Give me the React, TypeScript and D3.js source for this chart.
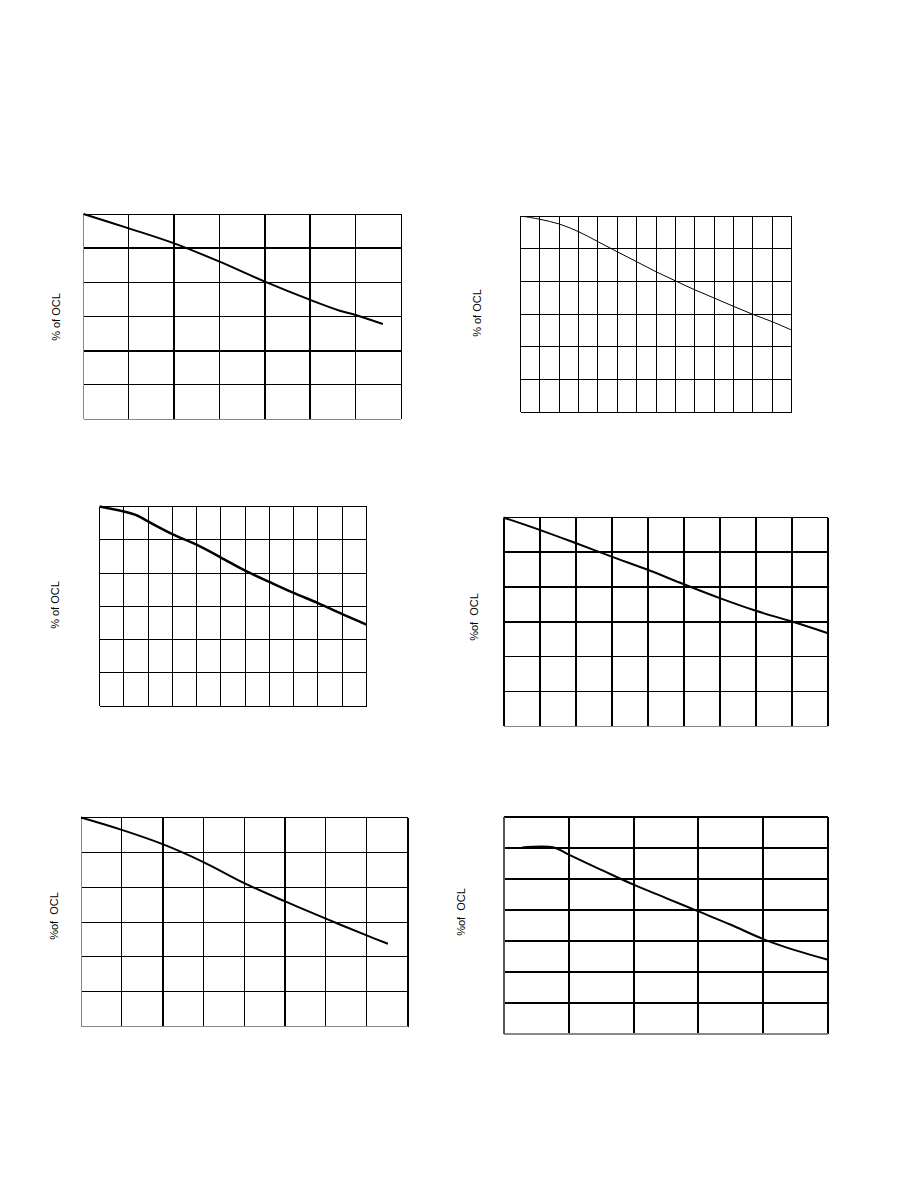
import * as d3 from 'd3';

// Curve values: x in grid columns, y in % of OCL
const p1X = [0, 1, 2, 3, 4, 5, 5.65, 6, 6.6];
const p1Y = [120, 111.6, 102.8, 92.1, 80.4, 69.7, 63.4, 60.9, 55.6];

const p2X = [0.24, 1, 2, 3, 4, 5, 6, 7, 8, 9, 10, 11, 12, 13, 14];
const p2Y = [119.6, 118, 115.1, 110.4, 104.3, 98.1, 92, 85.9, 80.3, 74.8, 69.8, 64.7, 59.8, 55.3, 50.2];

const p3X = [0, 1, 1.55, 2, 3, 4, 5, 6, 7, 8, 9, 10, 11];
const p3Y = [120, 117, 114.6, 111, 103.4, 97, 89.3, 81.4, 74.6, 68, 61.9, 55.3, 48.9];

const p4X = [0, 1, 2, 3, 4, 5, 6, 7, 8, 9];
const p4Y = [120, 112.9, 105.3, 97.5, 89.9, 81.6, 73.6, 66.3, 60.1, 53.4];

const p5X = [0, 1, 2, 3, 4, 5, 6, 7, 7.52];
const p5Y = [120, 112.9, 104.7, 94.4, 82.3, 71.8, 61.9, 52.3, 47.5];

const p6X = [0.28, 0.77, 1, 1.5, 2, 2.5, 3, 3.5, 4, 4.5, 5];
const p6Y = [120, 120, 115.4, 105.7, 96.1, 87.5, 78.9, 70.3, 61.1, 53.8, 47.8];

const labelA = '% of OCL';
const labelB = '%of  OCL';

interface PanelProps {
  box: [number, number, number, number]; // left, top, right, bottom
  cols: number;
  yMax: number;
  xs: number[];
  ys: number[];
  vWidths: number[]; // interior vertical lines, left to right
  hWidths: number[]; // interior horizontal lines, top to bottom
  border: { top: number; right: number; bottom: number; left: number; leftColor: string; bottomColor: string };
  curveWidth: number;
  label: string;
  labelPos: [number, number];
}

function Panel(p: PanelProps) {
  const [l, t, r, b] = p.box;
  const x = d3.scaleLinear().domain([0, p.cols]).range([l, r]);
  const y = d3.scaleLinear().domain([0, p.yMax]).range([b, t]);
  const line = d3
    .line<number>()
    .x((_, i) => x(p.xs[i]))
    .y((d) => y(d))
    .curve(d3.curveCatmullRom.alpha(0.5));

  const colTicks = d3.range(1, p.cols);
  const rowTicks = d3.range(1, p.yMax / 20).map((k) => p.yMax - k * 20);

  return (
    <g>
      <g shapeRendering="crispEdges">
        {colTicks.map((c, i) => (
          <line key={'v' + c} x1={x(c)} x2={x(c)} y1={t} y2={b} stroke="#000" strokeWidth={p.vWidths[i]} />
        ))}
        {rowTicks.map((v, i) => (
          <line key={'h' + v} x1={l} x2={r} y1={y(v)} y2={y(v)} stroke="#000" strokeWidth={p.hWidths[i]} />
        ))}
        <line x1={l} x2={r} y1={t} y2={t} stroke="#000" strokeWidth={p.border.top} />
        <line x1={r} x2={r} y1={t} y2={b} stroke="#000" strokeWidth={p.border.right} />
        <line x1={l} x2={r} y1={b} y2={b} stroke={p.border.bottomColor} strokeWidth={p.border.bottom} />
        <line x1={l} x2={l} y1={t} y2={b} stroke={p.border.leftColor} strokeWidth={p.border.left} />
      </g>
      <path d={line(p.ys) || ''} fill="none" stroke="#000" strokeWidth={p.curveWidth} />
      <text
        transform={`translate(${p.labelPos[0]},${p.labelPos[1]}) rotate(-90)`}
        textAnchor="middle"
        dominantBaseline="central"
        fontFamily="Liberation Sans, Arial, sans-serif"
        fontSize={11}
        style={{ whiteSpace: 'pre' }}
        fill="#000"
      >
        {p.label}
      </text>
    </g>
  );
}

export default function App() {
  return (
    <svg
      width={918}
      height={1188}
      style={{ position: 'absolute', left: 0, top: 0, background: '#fff' }}
    >
      <rect width={918} height={1188} fill="#fff" />
      <Panel
        box={[83.5, 214, 401, 419]}
        cols={7}
        yMax={120}
        xs={p1X}
        ys={p1Y}
        vWidths={[1, 2, 1, 2, 2, 1]}
        hWidths={[2, 1, 1, 2, 1]}
        border={{ top: 1, right: 1, bottom: 1, left: 1, leftColor: '#888', bottomColor: '#888' }}
        curveWidth={2}
        label={labelA}
        labelPos={[56, 317]}
      />
      <Panel
        box={[520.5, 216, 791.5, 412]}
        cols={14}
        yMax={120}
        xs={p2X}
        ys={p2Y}
        vWidths={d3.range(13).map(() => 1)}
        hWidths={[1, 1, 1, 1, 1]}
        border={{ top: 1, right: 1, bottom: 1, left: 1, leftColor: '#000', bottomColor: '#000' }}
        curveWidth={1}
        label={labelA}
        labelPos={[477, 313]}
      />
      <Panel
        box={[99.5, 506.5, 366.5, 706]}
        cols={11}
        yMax={120}
        xs={p3X}
        ys={p3Y}
        vWidths={d3.range(10).map(() => 1)}
        hWidths={[1, 1, 1, 1, 1]}
        border={{ top: 1, right: 1, bottom: 1, left: 1, leftColor: '#000', bottomColor: '#000' }}
        curveWidth={2.5}
        label={labelA}
        labelPos={[55, 605]}
      />
      <Panel
        box={[503.5, 517.5, 828, 726]}
        cols={9}
        yMax={120}
        xs={p4X}
        ys={p4Y}
        vWidths={d3.range(8).map(() => 2)}
        hWidths={[2, 2, 2, 1, 1]}
        border={{ top: 1, right: 2, bottom: 1, left: 2, leftColor: '#000', bottomColor: '#888' }}
        curveWidth={2}
        label={labelB}
        labelPos={[474, 617]}
      />
      <Panel
        box={[81, 817.5, 407.5, 1026.5]}
        cols={8}
        yMax={120}
        xs={p5X}
        ys={p5Y}
        vWidths={[1, 2, 1, 1, 2, 1, 1]}
        hWidths={[1, 1, 1, 1, 1]}
        border={{ top: 1, right: 2, bottom: 1, left: 1, leftColor: '#888', bottomColor: '#888' }}
        curveWidth={2}
        label={labelB}
        labelPos={[54, 916]}
      />
      <Panel
        box={[504, 816.5, 828, 1034]}
        cols={5}
        yMax={140}
        xs={p6X}
        ys={p6Y}
        vWidths={[2, 2, 2, 2]}
        hWidths={[2, 2, 2, 2, 2, 2]}
        border={{ top: 2, right: 2, bottom: 2, left: 2, leftColor: '#555', bottomColor: '#888' }}
        curveWidth={2}
        label={labelB}
        labelPos={[461, 912]}
      />
    </svg>
  );
}
